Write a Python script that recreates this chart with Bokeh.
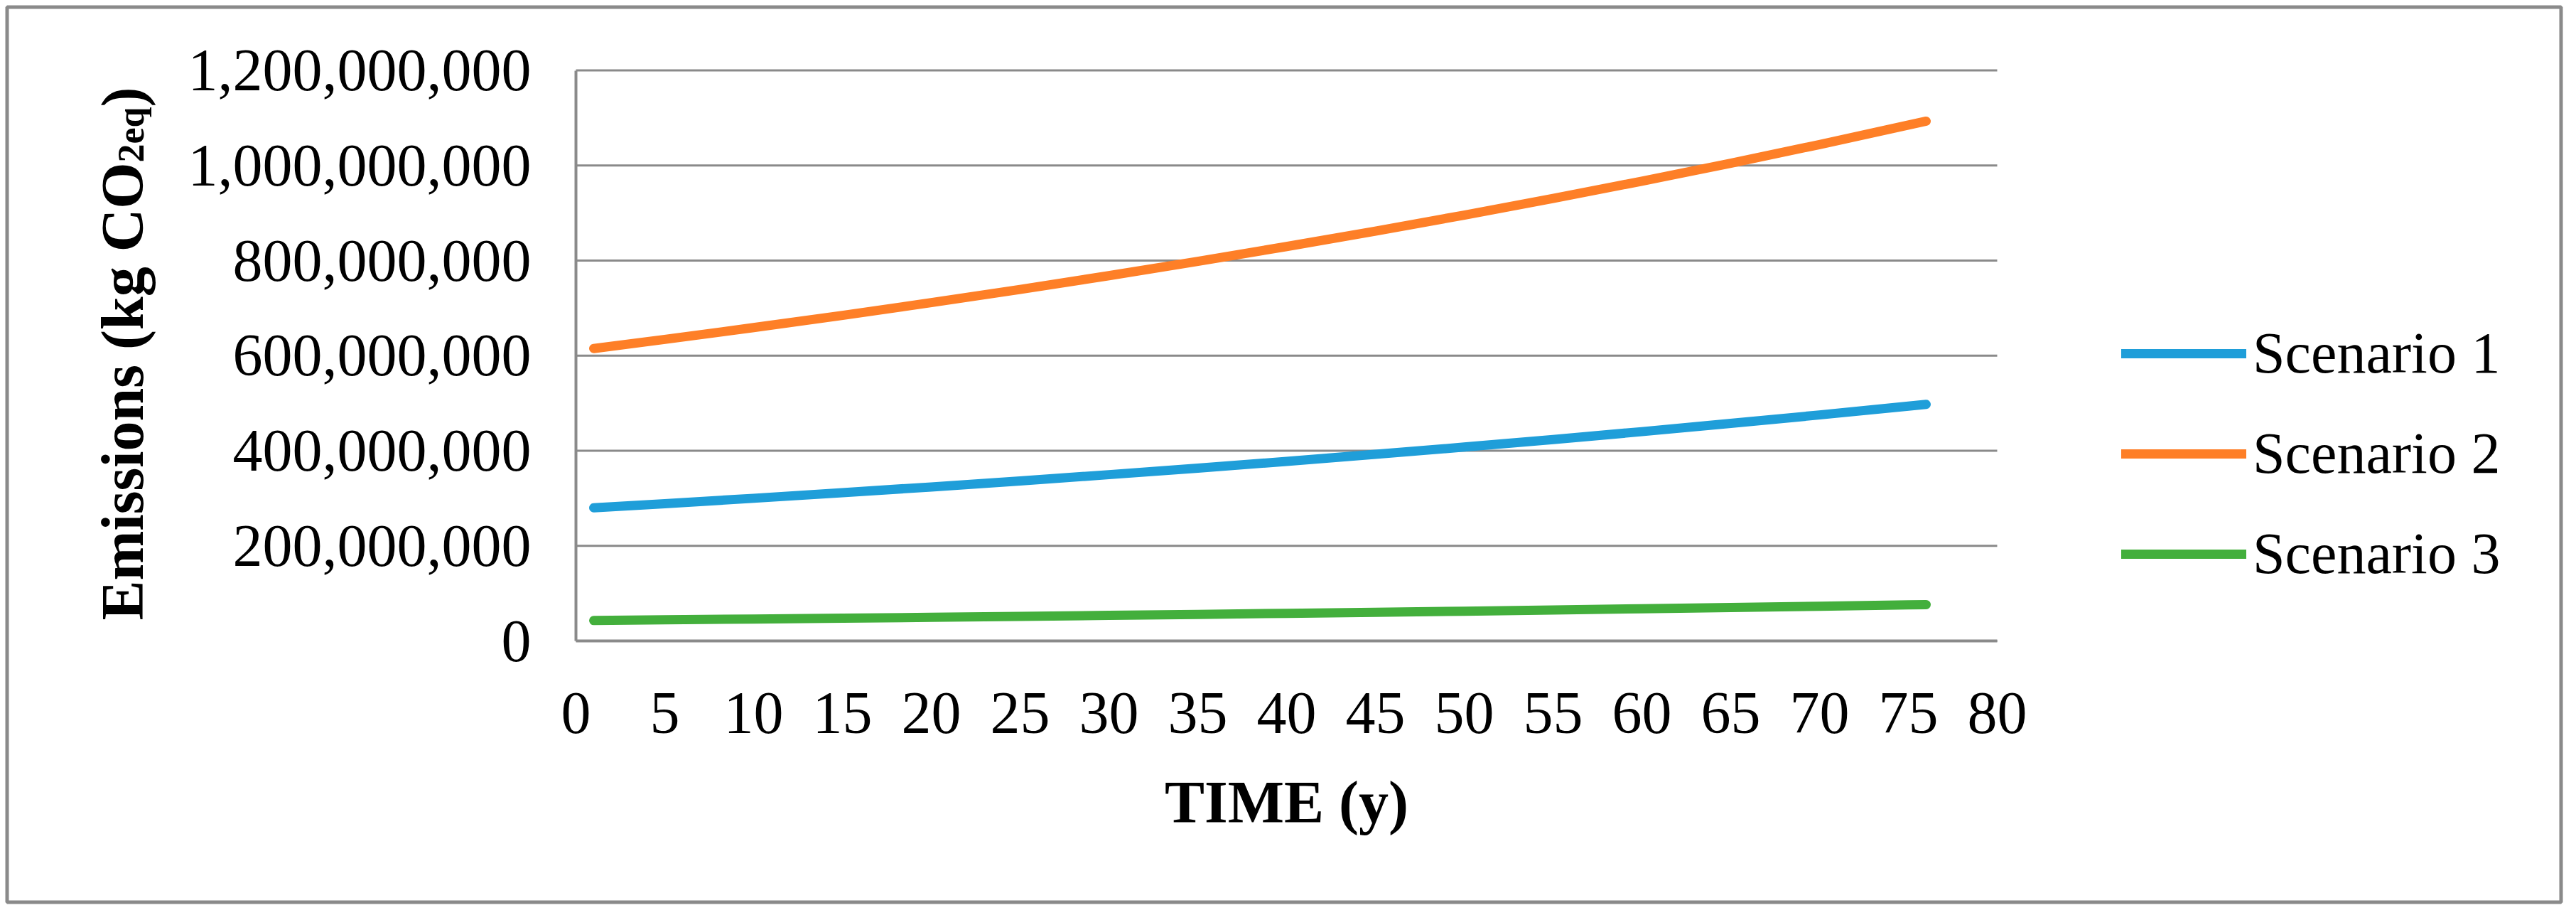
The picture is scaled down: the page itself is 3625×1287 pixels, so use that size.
import math
from bokeh.plotting import figure
from bokeh.models import (Range1d, FixedTicker, NumeralTickFormatter, Legend,
                          LegendItem, Label, BoxAnnotation, LinearAxis)
from bokeh.embed import file_html
from bokeh.resources import INLINE

# ---------------- data ----------------
years = [1, 5, 10, 15, 20, 25, 30, 35, 40, 45, 50, 55, 60, 65, 70, 75, 76]
scenario_1 = [280.0e6, 288.7e6, 300.0e6, 311.8e6, 323.9e6, 336.6e6, 349.7e6, 363.4e6,
              377.6e6, 392.4e6, 407.7e6, 423.7e6, 440.2e6, 457.5e6, 475.3e6, 493.9e6, 497.7e6]
scenario_2 = [615.0e6, 634.2e6, 659.0e6, 684.7e6, 711.5e6, 739.3e6, 768.2e6, 798.3e6,
              829.5e6, 861.9e6, 895.6e6, 930.6e6, 967.0e6, 1004.8e6, 1044.0e6, 1084.9e6, 1093.2e6]
scenario_3 = [43.0e6, 44.3e6, 46.1e6, 47.9e6, 49.7e6, 51.7e6, 53.7e6, 55.8e6,
              58.0e6, 60.3e6, 62.6e6, 65.1e6, 67.6e6, 70.3e6, 73.0e6, 75.9e6, 76.4e6]
series_names = ["Scenario 1", "Scenario 2", "Scenario 3"]
series_colors = ["#1f9ed9", "#fe7f27", "#43af3c"]
x_ticks = [0, 5, 10, 15, 20, 25, 30, 35, 40, 45, 50, 55, 60, 65, 70, 75, 80]
y_ticks = [0, 200e6, 400e6, 600e6, 800e6, 1000e6, 1200e6]
x_title = "TIME (y)"
y_title_main = "Emissions (kg CO"
y_title_sub = "2eq"
y_title_end = ")"

# ---------------- layout (pixels on the canvas) ----------------
FONT = "Liberation Serif"
GRAY = "#8a8a8a"
W, H = 3609, 1275
FL, FR, FT, FB = 810.0, 2810.0, 98.5, 901.0   # data-area edges on the canvas
x0, x1 = x_ticks[0], x_ticks[-1]
y0, y1 = y_ticks[0], y_ticks[-1]
xs = (x1 - x0) / (FR - FL)
ys = (y1 - y0) / (FB - FT)

p = figure(width=W, height=H, output_backend="svg", toolbar_location=None,
           x_axis_location=None, y_axis_location=None,
           x_range=Range1d(x0 - FL * xs, x1 + (W - FR) * xs),
           y_range=Range1d(y0 - (H - FB) * ys, y1 + FT * ys),
           min_border=0)
p.outline_line_color = None
p.background_fill_color = "white"
p.border_fill_color = "white"
for g in p.grid:
    g.visible = False

# horizontal grid lines (between axis limits)
p.segment(x0=[x0] * len(y_ticks), x1=[x1] * len(y_ticks), y0=y_ticks, y1=y_ticks,
          line_color=GRAY, line_width=3)

# axes placed at data location
xaxis = LinearAxis(fixed_location=y0, bounds=(x0, x1), ticker=FixedTicker(ticks=x_ticks))
yaxis = LinearAxis(fixed_location=x0, bounds=(y0, y1), ticker=FixedTicker(ticks=y_ticks),
                   formatter=NumeralTickFormatter(format="0,0"))
for ax in (xaxis, yaxis):
    ax.axis_line_color = GRAY
    ax.axis_line_width = 4
    ax.major_tick_line_color = None
    ax.minor_tick_line_color = None
    ax.major_tick_out = 0
    ax.major_tick_in = 0
    ax.minor_tick_out = 0
    ax.minor_tick_in = 0
    ax.major_label_text_font = FONT
    ax.major_label_text_font_size = "84px"
    ax.major_label_text_color = "black"
xaxis.major_label_standoff = 73
xaxis.axis_label = x_title
xaxis.axis_label_text_font = FONT
xaxis.axis_label_text_font_size = "84px"
xaxis.axis_label_text_font_style = "bold"
xaxis.axis_label_text_color = "black"
xaxis.axis_label_standoff = 48
yaxis.major_label_standoff = 63
p.add_layout(xaxis, "below")
p.add_layout(yaxis, "left")

# lines
renderers = []
for yv, c in zip([scenario_1, scenario_2, scenario_3], series_colors):
    r = p.line(years, yv, line_color=c, line_width=13, line_cap="round", line_join="round")
    renderers.append(r)

legend = Legend(items=[LegendItem(label=n, renderers=[r]) for n, r in zip(series_names, renderers)],
                location=(2985, 446), orientation="vertical", padding=0, margin=0,
                spacing=41, glyph_width=176, glyph_height=100, label_height=100,
                label_standoff=9, label_text_font=FONT, label_text_font_size="82px",
                label_text_color="black", border_line_color=None, background_fill_alpha=0)
p.add_layout(legend)

# rotated y-axis title with subscript
common = dict(x_units="screen", y_units="screen", angle=math.pi / 2,
              text_font=FONT, text_font_style="bold", text_color="black",
              text_align="left", text_baseline="alphabetic")
p.add_layout(Label(x=172, y=403, text=y_title_main, text_font_size="84px", **common))
p.add_layout(Label(x=184, y=1047, text=y_title_sub, text_font_size="52px", **common))
p.add_layout(Label(x=172, y=1125, text=y_title_end, text_font_size="84px", **common))

# outer chart border
p.add_layout(BoxAnnotation(left=9.5, right=3603.5, bottom=6.5, top=1265.5,
                           left_units="screen", right_units="screen",
                           bottom_units="screen", top_units="screen",
                           fill_alpha=0, line_color=GRAY, line_alpha=1.0, line_width=5))

open("out.html", "w").write(file_html(p, INLINE))
